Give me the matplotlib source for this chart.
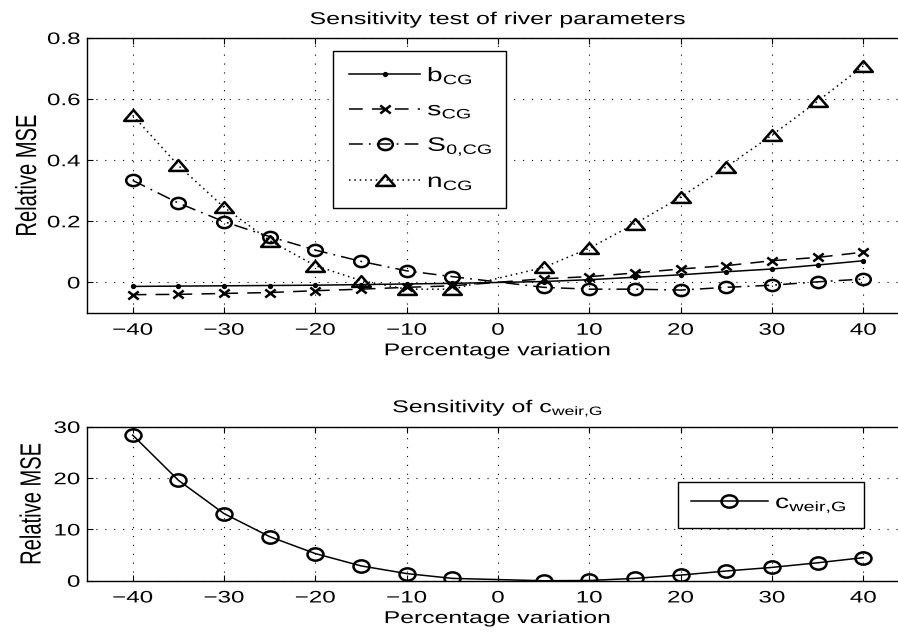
import numpy as np
import matplotlib
matplotlib.use('Agg')
import matplotlib.pyplot as plt
from matplotlib.path import Path
from matplotlib.patheffects import AbstractPathEffect
from matplotlib.transforms import Affine2D

plt.rcParams['font.family'] = ['Liberation Sans', 'DejaVu Sans']
plt.rcParams['mathtext.default'] = 'regular'

# variacion porcentual de cada parametro (sin el 0)
variacion = [-40, -35, -30, -25, -20, -15, -10, -5, 5, 10, 15, 20, 25, 30, 35, 40]

b_cg = [-0.013, -0.012, -0.011, -0.010, -0.009, -0.007, -0.005, -0.003,
        0.003, 0.009, 0.017, 0.025, 0.035, 0.044, 0.057, 0.071]
s_cg = [-0.040, -0.039, -0.036, -0.033, -0.027, -0.022, -0.016, -0.011,
        0.012, 0.019, 0.031, 0.044, 0.055, 0.071, 0.082, 0.099]
S0_cg = [0.334, 0.260, 0.199, 0.150, 0.106, 0.069, 0.038, 0.019,
         -0.016, -0.022, -0.022, -0.025, -0.016, -0.009, 0.002, 0.011]
n_cg = [0.547, 0.383, 0.246, 0.137, 0.055, 0.006, -0.022, -0.022,
        0.049, 0.112, 0.192, 0.279, 0.378, 0.482, 0.593, 0.708]

c_weir = [28.4, 19.6, 13.1, 8.6, 5.3, 2.9, 1.4, 0.46,
          0.0, 0.05, 0.46, 1.1, 1.9, 2.6, 3.5, 4.5]

xticks = [-40, -30, -20, -10, 0, 10, 20, 30, 40]

ANCHO = 1.45  # ensanchado horizontal del texto


class Ensanchar(AbstractPathEffect):
    """Estira el texto en horizontal alrededor de un punto de anclaje."""

    def __init__(self, sx=ANCHO, ancla='center'):
        super().__init__()
        self.sx = sx
        self.ancla = ancla

    def draw_path(self, renderer, gc, tpath, affine, rgbFace=None):
        bb = tpath.get_extents(affine)
        if self.ancla == 'left':
            cx = bb.x0
        elif self.ancla == 'right':
            cx = bb.x1
        else:
            cx = 0.5 * (bb.x0 + bb.x1)
        tr = affine + Affine2D().translate(-cx, 0).scale(self.sx, 1).translate(cx, 0)
        renderer.draw_path(gc, tpath, tr, rgbFace)


def ancho(txt, ancla='center'):
    txt.set_path_effects([Ensanchar(ancla=ancla)])


# marcadores algo mas anchos que altos
circulo = Path.unit_circle().transformed(Affine2D().scale(1.3, 1.0))
triangulo = Path([(-0.95, -0.55), (0.95, -0.55), (0.0, 0.55), (-0.95, -0.55)],
                 [Path.MOVETO, Path.LINETO, Path.LINETO, Path.CLOSEPOLY])
aspa = Path([(-1.3, -1), (1.3, 1), (-1.3, 1), (1.3, -1)],
            [Path.MOVETO, Path.LINETO, Path.MOVETO, Path.LINETO])

fig = plt.figure(figsize=(8.98, 6.41), dpi=100)
ax1 = fig.add_axes([0.0969, 0.5117, 0.9152, 0.429])
ax2 = fig.add_axes([0.0969, 0.094, 0.9152, 0.240])

mk = dict(color='black', lw=1.1, mew=1.8, mfc='none')
ax1.plot(variacion, b_cg, '-', marker='.', ms=4, label='b$_{CG}$', **mk)
ax1.plot(variacion, s_cg, '--', marker=aspa, ms=7.5, dashes=(9, 6), label='s$_{CG}$', **mk)
ax1.plot(variacion, S0_cg, '-.', marker=circulo, ms=10.5, dashes=(9, 4, 1.2, 4),
         label='S$_{0{,}CG}$', **mk)
ax1.plot(variacion, n_cg, ':', marker=triangulo, ms=13.5, dashes=(1, 2.5), label='n$_{CG}$', **mk)

ax1.set_xlim(-45, 45)
ax1.set_ylim(-0.1, 0.8)
ax1.set_yticks([0, 0.2, 0.4, 0.6, 0.8])
ax1.set_yticklabels(['0', '0.2', '0.4', '0.6', '0.8'])
ax1.set_title('Sensitivity test of river parameters', fontsize=12.4, pad=10)
leg1 = ax1.legend(loc='upper left', bbox_to_anchor=(0.2993, 0.365, 0.2105, 0.589),
                  mode='expand', fontsize=14, frameon=True, fancybox=False,
                  edgecolor='black', framealpha=1, handlelength=3.7,
                  handletextpad=0.36, labelspacing=0.8, borderpad=0.8, borderaxespad=0)

ax2.plot(variacion, c_weir, '-', marker=circulo, ms=11.5, label='c$_{weir{,}G}$', **mk)
ax2.set_xlim(-45, 45)
ax2.set_ylim(0, 30)
ax2.set_yticks([0, 10, 20, 30])
ax2.set_title('Sensitivity of c$_{weir{,}G}$', fontsize=12.4, pad=10.5)
leg2 = ax2.legend(loc='upper left', bbox_to_anchor=(0.719, 0.3, 0.2263, 0.343),
                  mode='expand', fontsize=14, frameon=True, fancybox=False,
                  edgecolor='black', framealpha=1, handlelength=4.0,
                  handletextpad=0.36, borderpad=0.65, borderaxespad=0)

for ax, leg in ((ax1, leg1), (ax2, leg2)):
    ax.set_xticks(xticks)
    ax.set_xlabel('Percentage variation', fontsize=12.3, labelpad=4)
    ax.set_ylabel('Relative MSE', fontsize=14.5, labelpad=14.5)
    ax.grid(True, color='black', linestyle=(0, (1, 7)), linewidth=0.8)
    ax.tick_params(direction='in', top=True, right=True, labelsize=12,
                   length=4, width=0.8)
    ax.tick_params(axis='x', pad=7)
    ax.tick_params(axis='y', pad=5)
    for sp in ax.spines.values():
        sp.set_linewidth(1.0)
    leg.get_frame().set_linewidth(1.0)
    for t in ax.get_xticklabels():
        ancho(t)
    for t in ax.get_yticklabels():
        ancho(t, 'right')
    for t in leg.get_texts():
        ancho(t, 'left')
    ancho(ax.title)
    ancho(ax.xaxis.label)
    ancho(ax.yaxis.label)

plt.savefig('out.png', dpi=100)
